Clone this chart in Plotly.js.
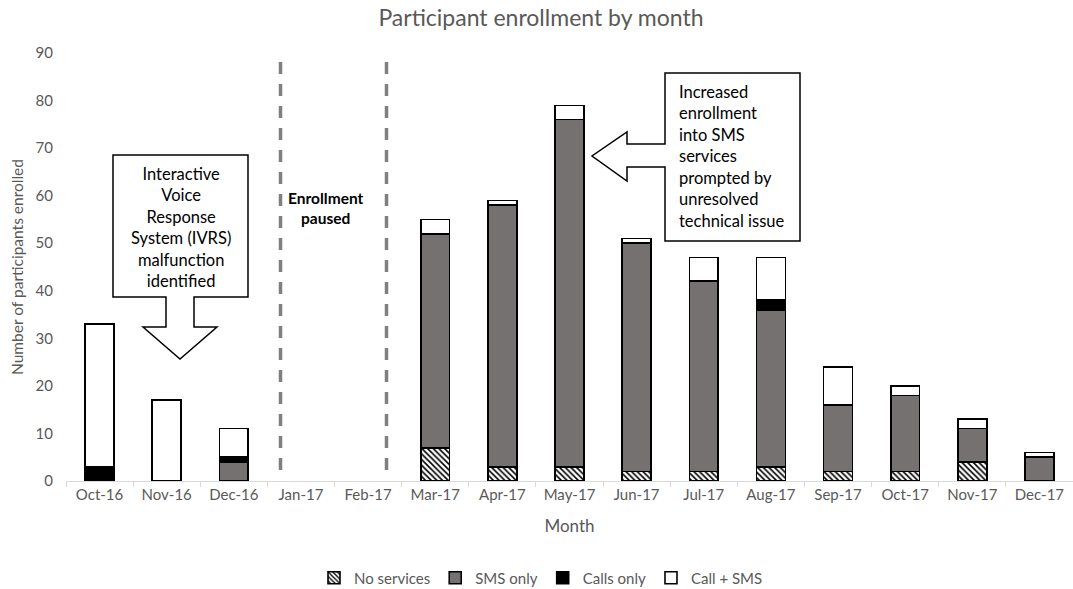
<!DOCTYPE html>
<html>
<head>
<meta charset="utf-8">
<script src="https://cdn.plot.ly/plotly-3.0.1.min.js"></script>
<style>html,body{margin:0;padding:0;background:#fff;}#chart{width:1073px;height:589px;}</style>
</head>
<body>
<div id="chart"></div>
<script>
const months = ["Oct-16","Nov-16","Dec-16","Jan-17","Feb-17","Mar-17","Apr-17","May-17","Jun-17","Jul-17","Aug-17","Sep-17","Oct-17","Nov-17","Dec-17"];
const noServices = [null, null, null, null, null, 7, 3, 3, 2, 2, 3, 2, 2, 4, null];
const smsOnly    = [null, null, 4, null, null, 45, 55, 73, 48, 40, 33, 14, 16, 7, 5];
const callsOnly  = [3, null, 1, null, null, null, null, null, null, null, 2, null, null, null, null];
const callSms    = [30, 17, 6, null, null, 3, 1, 3, 1, 5, 9, 8, 2, 2, 1];
const seriesNames = ["No services", "SMS only", "Calls only", "Call + SMS"];

const W = 1073, H = 589;
const L = 66, R = 1073, T = 53, B = 481;
const px = v => (v - L) / (R - L);
const py = v => (B - v) / (B - T);
const FONT = "Lato, 'Open Sans', sans-serif";
const GREY = "#595959";

const outline = {color: "#000", width: 1.6};
const traces = [
  {name: seriesNames[0], x: months, y: noServices, type: "bar",
   marker: {color: "#fff", line: outline, pattern: {shape: "\\", fgcolor: "#000", bgcolor: "#fff", size: 4, solidity: 0.4}}},
  {name: seriesNames[1], x: months, y: smsOnly, type: "bar", marker: {color: "#767171", line: outline}},
  {name: seriesNames[2], x: months, y: callsOnly, type: "bar", marker: {color: "#000", line: outline}},
  {name: seriesNames[3], x: months, y: callSms, type: "bar", marker: {color: "#fff", line: outline}}
];

function pathFrom(pts) {
  return "M" + pts.map(p => px(p[0]).toFixed(5) + "," + py(p[1]).toFixed(5)).join(" L") + " Z";
}
const leftCallout = pathFrom([[113,155],[248,155],[248,297],[194,297],[194,327],[217,327],[180,359],[143,327],[166,327],[166,297],[113,297]]);
const rightCallout = pathFrom([[665,73],[800,73],[800,241],[665,241],[665,167],[627,167],[627,181],[592,156],[627,132],[627,144],[665,144]]);

const shapes = [
  {type: "path", xref: "paper", yref: "paper", path: leftCallout, fillcolor: "#fff", line: {color: "#000", width: 1.5}, layer: "above"},
  {type: "path", xref: "paper", yref: "paper", path: rightCallout, fillcolor: "#fff", line: {color: "#000", width: 1.5}, layer: "above"},
  {type: "line", xref: "paper", yref: "paper", x0: px(280.5), x1: px(280.5), y0: py(62), y1: py(479), line: {color: "#808080", width: 3.5, dash: "12px,10px"}},
  {type: "line", xref: "paper", yref: "paper", x0: px(386.5), x1: px(386.5), y0: py(62), y1: py(479), line: {color: "#808080", width: 3.5, dash: "12px,10px"}}
];

const annotations = [
  {xref: "paper", yref: "paper", x: px(180.5), y: py(227), text: "Interactive<br>Voice<br>Response<br>System (IVRS)<br>malfunction<br>identified",
   showarrow: false, align: "center", xanchor: "center", yanchor: "middle", font: {family: FONT, size: 16.5, color: "#000"}},
  {xref: "paper", yref: "paper", x: px(677), y: py(156), text: "Increased<br>enrollment<br>into SMS<br>services<br>prompted by<br>unresolved<br>technical issue",
   showarrow: false, align: "left", xanchor: "left", yanchor: "middle", font: {family: FONT, size: 16.5, color: "#000"}},
  {xref: "paper", yref: "paper", x: px(326), y: py(208), text: "<b>Enrollment</b><br><b>paused</b>",
   showarrow: false, align: "center", xanchor: "center", yanchor: "middle", font: {family: FONT, size: 15.5, color: "#000"}}
];

const layout = {
  width: W, height: H,
  margin: {l: L, r: W - R, t: T, b: H - B},
  paper_bgcolor: "#fff", plot_bgcolor: "#fff",
  barmode: "stack", bargap: 0.57,
  font: {family: FONT, color: GREY, size: 14},
  title: {text: "Participant enrollment by month", x: 541 / W, xref: "container", xanchor: "center",
          y: 1 - 18 / H, yref: "container", yanchor: "middle", font: {family: FONT, size: 23, color: GREY}},
  xaxis: {type: "category", tickson: "boundaries", ticks: "outside", ticklen: 5, tickcolor: "#d9d9d9",
          showline: true, linecolor: "#d9d9d9", linewidth: 1, showgrid: false, zeroline: false,
          tickfont: {family: FONT, size: 15, color: GREY},
          title: {text: "Month", standoff: 18, font: {family: FONT, size: 17, color: GREY}}},
  yaxis: {range: [0, 90], dtick: 10, showgrid: false, zeroline: false, showline: false, ticks: "",
          ticklabelstandoff: 12,
          tickfont: {family: FONT, size: 15, color: GREY},
          title: {text: "Number of participants enrolled", standoff: 8, font: {family: FONT, size: 15.5, color: GREY}}},
  legend: {orientation: "h", xref: "container", yref: "container", x: 541 / W, xanchor: "center",
           y: 1 - 578 / H, yanchor: "middle", font: {family: FONT, size: 15, color: GREY}, traceorder: "normal",
           itemwidth: 30},
  shapes: shapes,
  annotations: annotations,
  showlegend: true
};

Plotly.newPlot("chart", traces, layout, {displayModeBar: false, staticPlot: true});
</script>
</body>
</html>
